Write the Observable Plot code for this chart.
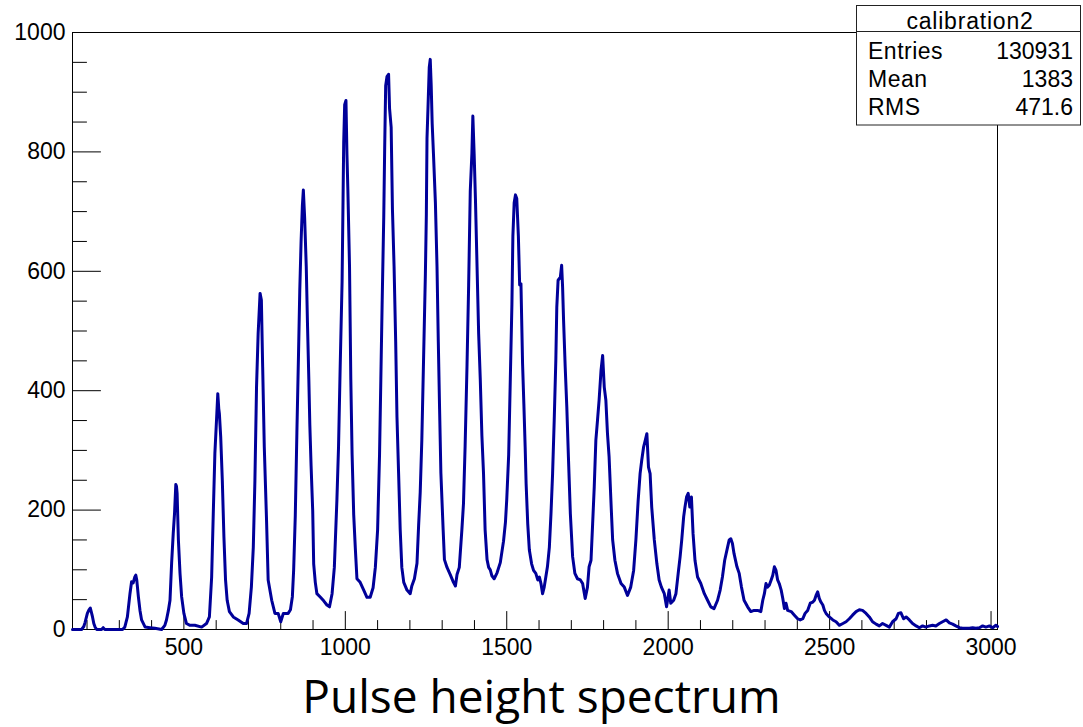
<!DOCTYPE html>
<html>
<head>
<meta charset="utf-8">
<script src="https://cdn.jsdelivr.net/npm/d3@7"></script>
<script src="https://cdn.jsdelivr.net/npm/@observablehq/plot@0.6"></script>
<style>
  body { margin: 0; background: #fff; }
  #wrap { position: relative; width: 1083px; height: 727px; overflow: hidden; background: #fff; }
  #caption { font-family: "Open Sans", Lato, sans-serif; font-size: 46px; line-height: 52px; height: 52px; margin-top: -3px; text-align: center; color: #000; white-space: nowrap; }
</style>
</head>
<body>
<div id="wrap"><div id="chart"></div><div id="caption"></div></div>
<script>
// ---- data: [pulse height, counts] ----
const segLow = [[155,0],[183,0],[190,5],[194,12],[201,27],[206,33],[210,36],[213,30],[217,21],[221,10],[225,4],[230,0],[245,0],[250,3],[255,0],[310,0],[317,4],[325,21],[333,60],[338,80],[343,78],[348,88],[351,91],[354,83],[359,55],[364,32],[369,16],[380,4],[395,3],[410,2],[431,0],[441,7],[446,16],[452,32],[457,49],[462,111],[467,161],[471,194],[475,243],[477,240],[479,228],[483,150],[488,94],[493,55],[500,27],[508,10],[519,7],[534,7],[555,4],[570,10],[579,21],[586,88],[591,194],[596,295],[601,350],[605,395],[608,370],[610,361],[614,323],[619,250],[624,155],[629,83],[634,49],[641,30],[653,21],[668,16],[684,10],[694,10],[702,27],[709,71],[715,138],[720,250],[725,406],[730,496],[736,563],[740,552],[744,440],[749,306],[756,183],[761,83],[772,49],[782,27],[792,27],[800,13],[808,27],[823,27],[830,33]];
const segMid = [[836,55],[840,100],[845,190],[850,330],[855,460],[859,570],[863,650],[867,710],[870,736],[874,690],[879,608],[883,508],[887,419],[890,344],[894,274],[899,199],[902,110],[907,79],[912,60],[923,54],[933,48],[943,41],[951,38],[959,60],[966,104],[974,218],[979,306],[984,438],[990,583],[993,722],[995,816],[998,879],[1002,886],[1005,797],[1008,734],[1013,608],[1017,419],[1021,293],[1026,192],[1031,136],[1036,85],[1046,79],[1057,66],[1067,54],[1077,54],[1086,70],[1093,104],[1100,167],[1106,293],[1110,419],[1114,545],[1119,690],[1122,810],[1125,911],[1129,926],[1134,930],[1137,873],[1142,841],[1146,703],[1151,608],[1156,482],[1160,356],[1165,262],[1170,167],[1175,104],[1181,79],[1191,66],[1201,60],[1206,73],[1214,85],[1222,111],[1227,174],[1232,230],[1237,318],[1242,444],[1248,596],[1251,696],[1253,823],[1256,873],[1260,942],[1263,955],[1266,911],[1269,848],[1273,797],[1279,715],[1284,608],[1288,482],[1292,369],[1296,262],[1303,167],[1307,117],[1315,104],[1325,92],[1335,79],[1341,73],[1346,92],[1353,104],[1361,167],[1366,211],[1371,306],[1377,444],[1382,577],[1387,734],[1392,797],[1395,860],[1399,797],[1403,722],[1408,608],[1413,495],[1418,419],[1423,325],[1428,262],[1433,167],[1439,117],[1444,104],[1449,100],[1454,90],[1461,85],[1470,95],[1480,112],[1490,148],[1496,180],[1500,218],[1506,293],[1511,419],[1516,545],[1519,659],[1523,715],[1527,728],[1531,722],[1536,659],[1540,577]];
const segHigh = [[1544,579],[1549,445],[1553,378],[1557,306],[1560,244],[1565,177],[1570,133],[1577,110],[1583,99],[1590,94],[1596,83],[1601,88],[1606,77],[1611,60],[1616,71],[1621,88],[1626,105],[1632,138],[1637,194],[1642,261],[1647,350],[1652,451],[1655,540],[1659,585],[1666,590],[1670,610],[1673,573],[1676,518],[1681,440],[1686,373],[1691,289],[1697,194],[1704,122],[1711,94],[1719,85],[1728,83],[1735,77],[1743,52],[1750,71],[1755,105],[1761,116],[1766,177],[1771,239],[1776,317],[1781,350],[1786,384],[1792,434],[1797,459],[1802,406],[1807,384],[1812,328],[1817,289],[1823,211],[1828,150],[1835,116],[1843,94],[1854,77],[1864,71],[1874,57],[1884,71],[1893,99],[1900,150],[1907,216],[1913,261],[1918,283],[1924,306],[1929,317],[1934,328],[1939,272],[1944,261],[1949,205],[1957,150],[1965,110],[1972,83],[1979,71],[1988,60],[1995,38],[2003,66],[2008,44],[2017,49],[2024,60],[2031,94],[2037,122],[2042,150],[2048,189],[2052,205],[2057,222],[2062,228],[2067,205],[2072,222],[2077,161],[2083,116],[2091,88],[2101,77],[2112,60],[2122,49],[2132,38],[2142,35],[2153,49],[2161,66],[2168,88],[2175,116],[2184,138],[2189,150],[2194,152],[2199,144],[2204,127],[2213,105],[2220,94],[2227,71],[2235,49],[2246,38],[2256,30],[2266,32],[2277,32],[2287,30]];
const segTail = [[2293,49],[2298,60],[2303,77],[2308,71],[2313,74],[2319,83],[2324,91],[2329,105],[2334,99],[2339,83],[2344,77],[2350,66],[2355,52],[2360,35],[2365,44],[2370,32],[2381,30],[2391,24],[2401,18],[2409,16],[2417,18],[2424,27],[2432,32],[2440,44],[2448,46],[2453,49],[2458,57],[2463,63],[2468,52],[2473,46],[2479,41],[2484,32],[2489,27],[2499,21],[2510,16],[2520,13],[2530,7],[2541,10],[2551,13],[2561,18],[2571,24],[2582,30],[2592,33],[2602,32],[2613,27],[2623,21],[2633,13],[2644,9],[2654,6],[2664,10],[2675,7],[2685,4],[2695,13],[2706,18],[2713,27],[2721,28],[2729,18],[2737,21],[2747,16],[2757,10],[2768,6],[2778,3],[2788,6],[2798,4],[2809,6],[2819,7],[2829,6],[2840,10],[2850,13],[2861,16],[2871,11],[2881,9],[2891,6],[2902,3],[2912,2],[2922,2],[2933,2],[2943,3],[2953,2],[2964,3],[2974,6],[2984,4],[2995,6],[3005,3],[3015,7],[3020,5]];

const xDomain = [155, 3020];
const yDomain = [0, 1000];
const xMajorTicks = [500, 1000, 1500, 2000, 2500, 3000];
const xMinorTicks = [200, 300, 400, 600, 700, 800, 900, 1100, 1200, 1300, 1400, 1600, 1700, 1800, 1900, 2100, 2200, 2300, 2400, 2600, 2700, 2800, 2900];
const yMajorTicks = [0, 200, 400, 600, 800, 1000];
const yMinorTicks = [50, 100, 150, 250, 300, 350, 450, 500, 550, 650, 700, 750, 850, 900, 950];
const histName = "calibration2";
const statLabels = ["Entries", "Mean", "RMS"];
const statValues = ["130931", "1383", "471.6"];
const captionText = "Pulse height spectrum";

const spectrum = [...segLow, ...segMid, ...segHigh, ...segTail];
const tickShape = { draw(ctx, l) { ctx.moveTo(0, 0); ctx.lineTo(0, -l); } };
const FONT = "'Liberation Sans', Arial, sans-serif";

const plot = Plot.plot({
  width: 1083,
  height: 672,
  marginLeft: 72,
  marginRight: 86,
  marginTop: 32,
  marginBottom: 43,
  x: { domain: xDomain },
  y: { domain: yDomain },
  style: { fontFamily: FONT, fontSize: "23px", color: "black", background: "white", overflow: "visible" },
  marks: [
    Plot.frame({ stroke: "black", strokeWidth: 1 }),
    Plot.vector(yMajorTicks, { x: xDomain[0], y: d => d, length: 28, rotate: 90, anchor: "start", shape: tickShape, stroke: "black", strokeWidth: 1 }),
    Plot.vector(yMinorTicks, { x: xDomain[0], y: d => d, length: 14, rotate: 90, anchor: "start", shape: tickShape, stroke: "black", strokeWidth: 1 }),
    Plot.vector(xMajorTicks, { x: d => d, y: yDomain[0], length: 18, rotate: 0, anchor: "start", shape: tickShape, stroke: "black", strokeWidth: 1 }),
    Plot.vector(xMinorTicks, { x: d => d, y: yDomain[0], length: 9, rotate: 0, anchor: "start", shape: tickShape, stroke: "black", strokeWidth: 1 }),
    Plot.line(spectrum, { x: d => d[0], y: d => d[1], stroke: "#000099", strokeWidth: 3, strokeLinejoin: "round" }),
    Plot.axisY({ ticks: yMajorTicks, tickSize: 0, tickPadding: 7, fontSize: 23, tickFormat: d => String(d) }),
    Plot.axisX({ ticks: xMajorTicks, tickSize: 0, tickPadding: 9, fontSize: 23, tickFormat: d => String(d) })
  ]
});
document.getElementById("chart").appendChild(plot);

// statistics box (ROOT style)
const svg = d3.select(plot);
const g = svg.append("g").attr("font-family", FONT).attr("font-size", 23).attr("fill", "black").attr("text-anchor", "start");
g.append("rect").attr("x", 856.5).attr("y", 5.5).attr("width", 224).attr("height", 119.5).attr("fill", "white").attr("stroke", "#222").attr("stroke-width", 1);
g.append("line").attr("x1", 856.5).attr("x2", 1080.5).attr("y1", 31.5).attr("y2", 31.5).attr("stroke", "#222");
g.append("text").attr("x", 970).attr("y", 29).attr("text-anchor", "middle").attr("letter-spacing", 0.8).text(histName);
const rowBase = [59, 87, 114.5];
statLabels.forEach((lab, i) => {
  g.append("text").attr("x", 868).attr("y", rowBase[i]).attr("text-anchor", "start").attr("letter-spacing", 0.5).text(lab);
  g.append("text").attr("x", 1073).attr("y", rowBase[i]).attr("text-anchor", "end").text(statValues[i]);
});

document.getElementById("caption").textContent = captionText;
</script>
</body>
</html>
